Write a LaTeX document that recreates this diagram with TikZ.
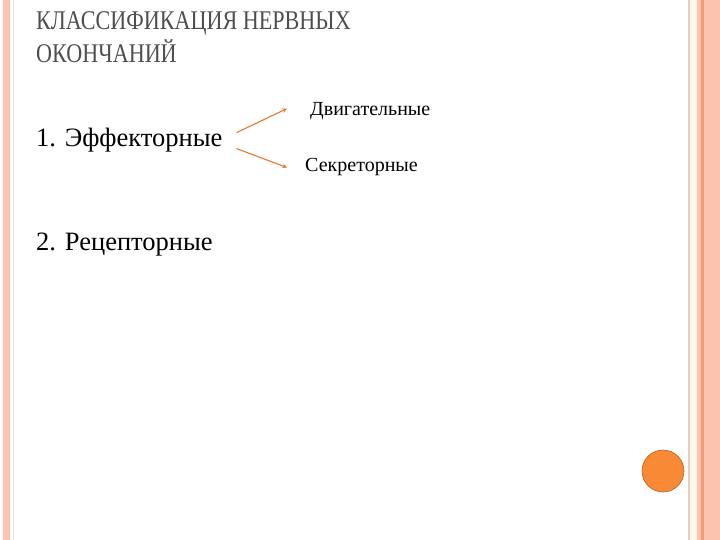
\documentclass[tikz,border=0pt]{standalone}
\usepackage{fontspec}
\setmainfont{Liberation Serif}
\definecolor{salmon}{HTML}{FCC4AE}
\definecolor{salmondark}{HTML}{F29A7C}
\definecolor{cream}{HTML}{FFF6EA}
\definecolor{tan}{HTML}{E6CCBC}
\definecolor{dotorange}{HTML}{F98A35}
\definecolor{arrorange}{HTML}{E8782E}
\definecolor{titlegray}{HTML}{4E4E4E}
\tikzset{
  head/.style={anchor=base west,inner sep=0pt,text=titlegray,font=\fontsize{27}{33}\selectfont},
  item/.style={anchor=base west,inner sep=0pt,font=\fontsize{26.5}{30}\selectfont},
  sub/.style={anchor=base west,inner sep=0pt,font=\fontsize{20}{22}\selectfont},
  arr/.style={->,>=stealth,color=arrorange,line width=1.1pt}
}
\begin{document}
\begin{tikzpicture}[x=1pt,y=-1pt]
\useasboundingbox (0,0) rectangle (720,540);
% frame
\fill[salmon] (3,0) rectangle (9.5,540);
\draw[tan!60,line width=1pt] (13.5,0) -- (13.5,540);
\draw[tan,line width=1.2pt] (689,0) -- (689,540);
\fill[cream] (690,0) rectangle (697,540);
\fill[salmon] (697,0) rectangle (720,540);
\fill[salmondark] (701,0) rectangle (703.5,540);
\fill[dotorange] (663,471) circle (21);
\draw[arrorange!80!black,line width=.6pt] (663,471) circle (21);
% text
\node (titleA) at (36,30) [head] {\scalebox{.82}[1]{КЛАССИФИКАЦИЯ НЕРВНЫХ}};
\node (titleB) at (36,63) [head] {\scalebox{.82}[1]{ОКОНЧАНИЙ}};
\node (eff) at (36,147) [item] {1. Эффекторные};
\node (rec) at (36,250) [item] {2. Рецепторные};
\node (dvig) at (310,116) [sub] {Двигательные};
\node (sekr) at (305,172) [sub] {Секреторные};
\draw[arr] ([shift={(14,-8)}]eff.east) -- ([shift={(-23,-3)}]dvig.west);
\draw[arr] ([shift={(14,8)}]eff.east) -- ([shift={(-18,0)}]sekr.west);
\end{tikzpicture}
\end{document}
